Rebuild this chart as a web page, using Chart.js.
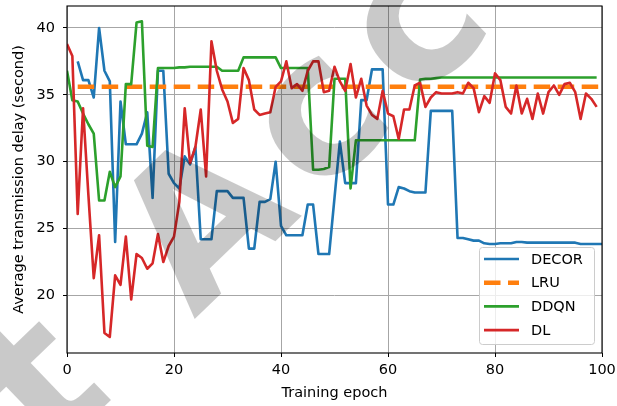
<!DOCTYPE html>
<html>
<head>
<meta charset="utf-8">
<script src="https://cdn.jsdelivr.net/npm/chart.js@4.4.1/dist/chart.umd.min.js"></script>
<style>
    html, body { margin: 0; padding: 0; background: #fff; }
    #wrap { width: 617px; height: 406px; position: relative; }
</style>
</head>
<body>
<div id="wrap"><canvas id="delayChart"></canvas></div>
<script>
// epochs on the x axis
const epochs = [
    0, 1, 2, 3, 4, 5, 6, 7, 8, 9, 10, 11, 12, 13, 14, 15, 16, 17, 18, 19,
    20, 21, 22, 23, 24, 25, 26, 27, 28, 29, 30, 31, 32, 33, 34, 35, 36, 37, 38, 39,
    40, 41, 42, 43, 44, 45, 46, 47, 48, 49, 50, 51, 52, 53, 54, 55, 56, 57, 58, 59,
    60, 61, 62, 63, 64, 65, 66, 67, 68, 69, 70, 71, 72, 73, 74, 75, 76, 77, 78, 79,
    80, 81, 82, 83, 84, 85, 86, 87, 88, 89, 90, 91, 92, 93, 94, 95, 96, 97, 98, 99, 100,
];

const decorDelay = [
    null, null, 37.5, 36.1, 36.1, 34.8, 40.0, 36.8, 36.0, 24.0,
    34.5, 31.3, 31.3, 31.3, 32.1, 33.7, 27.3, 36.8, 36.8, 29.1,
    28.4, 28.0, 30.4, 29.8, 31.1, 24.2, 24.2, 24.2, 27.8, 27.8,
    27.8, 27.3, 27.3, 27.3, 23.5, 23.5, 27.0, 27.0, 27.2, 30.0,
    25.2, 24.5, 24.5, 24.5, 24.5, 26.8, 26.8, 23.1, 23.1, 23.1,
    27.3, 31.5, 28.4, 28.4, 28.4, 34.6, 34.6, 36.9, 36.9, 36.9,
    26.8, 26.8, 28.1, 28.0, 27.8, 27.7, 27.7, 27.7, 33.8, 33.8,
    33.8, 33.8, 33.8, 24.3, 24.3, 24.2, 24.1, 24.1, 23.9, 23.85,
    23.85, 23.9, 23.9, 23.9, 24.0, 24.0, 23.95, 23.95, 23.95, 23.95,
    23.95, 23.95, 23.95, 23.95, 23.95, 23.95, 23.85, 23.85, 23.85, 23.85, 23.85,
];

// LRU is a flat reference level
const lruEpochs = [2, 100];
const lruDelay = [35.6, 35.6];

const ddqnDelay = [
    36.8, 34.6, 34.5, 33.6, 32.8, 32.1, 27.1, 27.1, 29.25, 28.1,
    28.9, 35.8, 35.8, 40.4, 40.5, 31.2, 31.1, 37.0, 37.0, 37.0,
    37.0, 37.05, 37.05, 37.1, 37.1, 37.1, 37.1, 37.1, 37.1, 36.8,
    36.8, 36.8, 36.8, 37.8, 37.8, 37.8, 37.8, 37.8, 37.8, 37.8,
    37.0, 37.0, 37.0, 37.0, 37.0, 37.0, 29.4, 29.4, 29.45, 29.6,
    36.2, 36.2, 36.2, 28.0, 31.6, 31.6, 31.6, 31.6, 31.6, 31.6,
    31.6, 31.6, 31.6, 31.6, 31.6, 31.6, 36.15, 36.2, 36.2, 36.25,
    36.3, 36.3, 36.3, 36.3, 36.3, 36.3, 36.3, 36.3, 36.3, 36.3,
    36.3, 36.3, 36.3, 36.3, 36.3, 36.3, 36.3, 36.3, 36.3, 36.3,
    36.3, 36.3, 36.3, 36.3, 36.3, 36.3, 36.3, 36.3, 36.3, 36.3,
];

const dlDelay = [
    38.8, 37.9, 26.1, 34.0, 27.5, 21.3, 24.5, 17.2, 16.9, 21.5,
    20.8, 24.4, 19.7, 23.1, 22.8, 22.0, 22.4, 24.6, 22.5, 23.7,
    24.4, 27.0, 34.0, 29.9, 31.1, 33.9, 28.9, 39.0, 36.8, 35.4,
    34.5, 32.9, 33.2, 37.0, 36.1, 33.9, 33.5, 33.6, 33.7, 35.6,
    36.0, 37.5, 35.5, 35.8, 35.3, 36.8, 37.5, 37.5, 35.2, 35.3,
    37.1, 36.0, 35.3, 37.3, 34.8, 36.2, 34.2, 33.5, 33.2, 35.3,
    33.6, 33.4, 31.7, 33.9, 33.9, 35.7, 35.9, 34.1, 34.8, 35.2,
    35.1, 35.1, 35.1, 35.2, 35.1, 35.9, 35.5, 33.7, 34.9, 34.4,
    36.6, 36.1, 34.1, 33.6, 35.7, 33.6, 34.7, 33.2, 35.1, 33.6,
    35.2, 35.7, 35.0, 35.8, 35.9, 35.2, 33.2, 35.1, 34.7, 34.1,
];

const xTicks = [0, 20, 40, 60, 80, 100];
const yTicks = [20, 25, 30, 35, 40];

const FONT = 'DejaVu Sans, sans-serif';
const axisFont = { family: FONT, size: 14.5 };
const gridStyle = {
    color: '#a6a6a6',
    lineWidth: 1,
    drawTicks: true,
    tickLength: 4,
    tickColor: '#000',
    tickWidth: 1,
};

// keep chart.js from adding label overflow padding
function noPad(axis) {
    axis.paddingTop = 0;
    axis.paddingBottom = 0;
    axis.paddingLeft = 0;
    axis.paddingRight = 0;
}

// box around the plot + legend in the lower right corner
const frameLegend = {
    id: 'frameLegend',
    afterDatasetsDraw(chart) {
        const { ctx, chartArea: a } = chart;
        ctx.save();
        ctx.strokeStyle = '#000';
        ctx.lineWidth = 1.1;
        ctx.strokeRect(a.left, a.top, a.right - a.left, a.bottom - a.top);

        const bx = 479, by = 247, bw = 115, bh = 97;
        ctx.beginPath();
        ctx.roundRect(bx + 0.5, by + 0.5, bw, bh, 3);
        ctx.fillStyle = 'rgba(255,255,255,0.8)';
        ctx.fill();
        ctx.strokeStyle = '#cccccc';
        ctx.lineWidth = 1;
        ctx.stroke();

        ctx.font = `14.5px ${FONT}`;
        ctx.textBaseline = 'middle';
        ctx.fillStyle = '#000';
        chart.data.datasets.forEach((ds, i) => {
            const y = by + 12 + i * 23.7;
            ctx.beginPath();
            ctx.strokeStyle = ds.borderColor;
            ctx.lineWidth = ds.borderWidth;
            ctx.setLineDash(ds.borderDash || []);
            ctx.moveTo(484, y);
            ctx.lineTo(519, y);
            ctx.stroke();
            ctx.setLineDash([]);
            ctx.fillText(ds.label, 531, y + 1);
        });
        ctx.restore();
    },
};

// grey diagonal watermark on top
const watermark = {
    id: 'watermark',
    afterDraw(chart) {
        const ctx = chart.ctx;
        ctx.save();
        ctx.font = `bold 195px ${FONT}`;
        ctx.letterSpacing = '20px';
        ctx.fillStyle = 'rgba(0,0,0,0.21)';
        ctx.textBaseline = 'middle';
        const pre = ctx.measureText('Just ').width;
        const wa = ctx.measureText('A').width - 20;
        ctx.translate(213, 231);
        ctx.rotate(-44 * Math.PI / 180);
        ctx.fillText('Just Accepted', -(pre + wa / 2), 0);
        ctx.restore();
    },
};

new Chart(document.getElementById('delayChart'), {
    type: 'line',
    data: {
        labels: epochs,
        datasets: [{
            label: 'DECOR',
            data: decorDelay,
            borderColor: '#1f77b4',
            borderWidth: 2.6,
            order: 4,
        }, {
            label: 'LRU',
            data: lruEpochs.map((e, i) => ({ x: e, y: lruDelay[i] })),
            borderColor: '#ff7f0e',
            borderWidth: 4.5,
            borderDash: [16.5, 7.5],
            order: 3,
        }, {
            label: 'DDQN',
            data: ddqnDelay,
            borderColor: '#2ca02c',
            borderWidth: 2.6,
            order: 2,
        }, {
            label: 'DL',
            data: dlDelay,
            borderColor: '#d62728',
            borderWidth: 2.6,
            order: 1,
        }],
    },
    options: {
        responsive: true,
        maintainAspectRatio: false,
        devicePixelRatio: 1,
        animation: false,
        events: [],
        elements: {
            point: { radius: 0 },
            line: { tension: 0, fill: false, borderCapStyle: 'butt', borderJoinStyle: 'round' },
        },
        layout: { padding: { top: 6, right: 15, left: 0, bottom: 0 } },
        plugins: {
            legend: { display: false },
            tooltip: { enabled: false },
        },
        scales: {
            x: {
                type: 'linear',
                min: 0,
                max: 100,
                afterBuildTicks: axis => { axis.ticks = xTicks.map(v => ({ value: v })); },
                afterFit: axis => { axis.height = 53; noPad(axis); },
                ticks: { font: axisFont, color: '#000', padding: 5, maxRotation: 0, autoSkip: false },
                grid: gridStyle,
                border: { display: false },
                title: {
                    display: true,
                    text: 'Training epoch',
                    font: axisFont,
                    color: '#000',
                    padding: { top: 0, bottom: 4 },
                },
            },
            y: {
                min: 15.7,
                max: 41.64,
                afterBuildTicks: axis => { axis.ticks = yTicks.map(v => ({ value: v })); },
                afterFit: axis => { axis.width = 67; noPad(axis); },
                ticks: { font: axisFont, color: '#000', padding: 8 },
                grid: gridStyle,
                border: { display: false },
                title: {
                    display: true,
                    text: 'Average transmission delay (second)',
                    font: axisFont,
                    color: '#000',
                    padding: { top: 11, bottom: 0 },
                },
            },
        },
    },
    plugins: [frameLegend, watermark],
});
</script>
</body>
</html>
